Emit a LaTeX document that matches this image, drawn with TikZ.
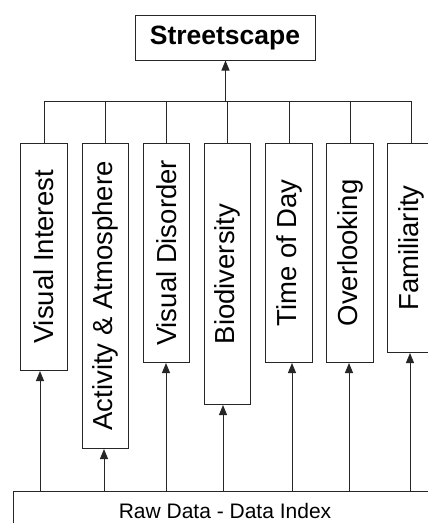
\documentclass[tikz,border=0pt]{standalone}
\usepackage{fontspec}
\setmainfont{Liberation Sans}
\usetikzlibrary{arrows.meta,calc}

\begin{document}
\begin{tikzpicture}[x=1pt,y=-1pt,
  line width=1pt,
  wire/.style={draw=black!85},
  arr/.style={wire,-{Triangle[length=10pt,width=8pt]}},
  topbox/.style={draw=black!85,fill=white,minimum width=180pt,minimum height=45pt,inner sep=0pt,
    font=\fontsize{26.5}{30}\selectfont\bfseries},
  factor/.style={draw=black!85,fill=white,minimum width=46.5pt,inner sep=0pt,anchor=north,
    font=\fontsize{27.5}{30}\selectfont},
  basebox/.style={draw=black!85,fill=white,minimum width=424pt,minimum height=39pt,inner sep=0pt,
    font=\fontsize{21}{24}\selectfont}]
  \useasboundingbox (0,0) rectangle (428,523);
  \clip (0,0) rectangle (428,523);
  \fill[white] (0,0) rectangle (428,523);

  % goal node
  \node[topbox] (street) at (225,37.5) {Streetscape};

  % the seven factor boxes, text read bottom to top
  \node[factor,minimum height=227pt] (vi) at (44,143)    {\rotatebox{90}{Visual Interest}};
  \node[factor,minimum height=305pt] (aa) at (105.5,143) {\rotatebox{90}{Activity \& Atmosphere}};
  \node[factor,minimum height=219pt] (vd) at (166.5,143) {\rotatebox{90}{Visual Disorder}};
  \node[factor,minimum height=261pt] (bd) at (227.5,143) {\rotatebox{90}{Biodiversity}};
  \node[factor,minimum height=219pt] (td) at (289,143)   {\rotatebox{90}{Time of Day}};
  \node[factor,minimum height=219pt] (ol) at (350,143)   {\rotatebox{90}{Overlooking}};
  \node[factor,minimum height=209pt] (fa) at (411,143)   {\rotatebox{90}{Familiarity}};

  % data source
  \node[basebox] (raw) at (225,510.5) {Raw Data - Data Index};

  % bus joining the factors to the goal
  \coordinate (bus) at (225.5,101);
  \draw[arr] (bus) -- (bus |- street.south);
  \draw[wire] (vi.north) |- (fa.north |- bus) -- (fa.north);
  \foreach \n in {aa,vd,bd,td,ol}
    \draw[wire] (\n.north) -- (\n.north |- bus);

  % data feeding each factor
  \draw[arr] ($(raw.north -| vi.south)+(-4,0)$) -- ($(vi.south)+(-4,0)$);
  \draw[arr] ($(raw.north -| aa.south)+(-1.5,0)$) -- ($(aa.south)+(-1.5,0)$);
  \draw[arr] ($(raw.north -| vd.south)+(-0.5,0)$) -- ($(vd.south)+(-0.5,0)$);
  \draw[arr] ($(raw.north -| bd.south)+(-4.5,0)$) -- ($(bd.south)+(-4.5,0)$);
  \draw[arr] ($(raw.north -| td.south)+(3,0)$) -- ($(td.south)+(3,0)$);
  \draw[arr] ($(raw.north -| ol.south)+(-1,0)$) -- ($(ol.south)+(-1,0)$);
  \draw[arr] ($(raw.north -| fa.south)+(-1,0)$) -- ($(fa.south)+(-1,0)$);
\end{tikzpicture}
\end{document}
